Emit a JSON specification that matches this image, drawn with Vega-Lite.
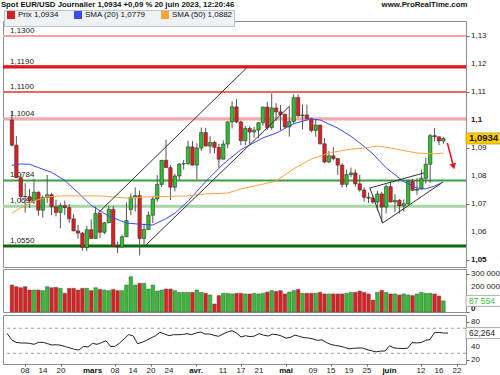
{
  "$schema": "https://vega.github.io/schema/vega-lite/v6.json",
  "padding": 0,
  "background": "white",
  "config": {
    "font": "Liberation Sans",
    "view": {"stroke": "#8f8f8f"},
    "axis": {"labelFont": "Liberation Sans", "labelFontSize": 8, "labelColor": "#222", "tickColor": "#666", "domain": false, "grid": false, "tickSize": 3, "labelPadding": 2},
    "legend": {"labelFont": "Liberation Sans", "labelFontSize": 8, "labelColor": "#111"}
  },
  "title": {
    "text": "\u00a0\u00a0\u00a0\u00a0\u00a0\u00a0Spot EUR/USD Journalier 1,0934 +0,09 % 20 juin 2023, 12:20:46\u00a0\u00a0\u00a0\u00a0\u00a0\u00a0\u00a0\u00a0\u00a0\u00a0\u00a0\u00a0\u00a0\u00a0\u00a0\u00a0\u00a0\u00a0\u00a0\u00a0\u00a0\u00a0\u00a0\u00a0\u00a0\u00a0\u00a0\u00a0\u00a0\u00a0\u00a0\u00a0\u00a0\u00a0\u00a0\u00a0\u00a0\u00a0\u00a0\u00a0\u00a0\u00a0\u00a0\u00a0\u00a0\u00a0\u00a0\u00a0\u00a0\u00a0\u00a0\u00a0\u00a0\u00a0\u00a0\u00a0\u00a0\u00a0\u00a0\u00a0\u00a0\u00a0\u00a0\u00a0\u00a0\u00a0\u00a0\u00a0www.ProRealTime.com",
    "anchor": "start",
    "fontSize": 7.8,
    "fontWeight": "bold",
    "color": "#111",
    "font": "Liberation Sans",
    "offset": 1
  },
  "datasets": {
    "px": [
      {"d":"2023-02-02","i":0,"o":1.1000,"h":1.1033,"l":1.0906,"c":1.0910,"sens":"baisse","v":212000,"rsi":62},
      {"d":"2023-02-03","i":1,"o":1.0910,"h":1.0943,"l":1.0796,"c":1.0794,"sens":"baisse","v":199000,"rsi":51.7},
      {"d":"2023-02-06","i":2,"o":1.0794,"h":1.0806,"l":1.0707,"c":1.0727,"sens":"baisse","v":191000,"rsi":47.5},
      {"d":"2023-02-07","i":3,"o":1.0727,"h":1.0774,"l":1.0669,"c":1.0726,"sens":"baisse","v":199000,"rsi":46.4},
      {"d":"2023-02-08","i":4,"o":1.0726,"h":1.0754,"l":1.0686,"c":1.0712,"sens":"baisse","v":173000,"rsi":46.4},
      {"d":"2023-02-09","i":5,"o":1.0712,"h":1.0790,"l":1.0700,"c":1.0742,"sens":"hausse","v":173000,"rsi":45.9},
      {"d":"2023-02-10","i":6,"o":1.0742,"h":1.0745,"l":1.0658,"c":1.0678,"sens":"baisse","v":173000,"rsi":44.3},
      {"d":"2023-02-13","i":7,"o":1.0678,"h":1.0730,"l":1.0652,"c":1.0723,"sens":"hausse","v":168000,"rsi":47.5},
      {"d":"2023-02-14","i":8,"o":1.0723,"h":1.0804,"l":1.0703,"c":1.0733,"sens":"hausse","v":199000,"rsi":47.5},
      {"d":"2023-02-15","i":9,"o":1.0733,"h":1.0740,"l":1.0660,"c":1.0690,"sens":"baisse","v":191000,"rsi":45.3},
      {"d":"2023-02-16","i":10,"o":1.0690,"h":1.0715,"l":1.0656,"c":1.0670,"sens":"baisse","v":194000,"rsi":43.2},
      {"d":"2023-02-17","i":11,"o":1.0670,"h":1.0705,"l":1.0613,"c":1.0694,"sens":"hausse","v":186000,"rsi":43.7},
      {"d":"2023-02-20","i":12,"o":1.0694,"h":1.0712,"l":1.0660,"c":1.0687,"sens":"baisse","v":147000,"rsi":42.7},
      {"d":"2023-02-21","i":13,"o":1.0687,"h":1.0700,"l":1.0633,"c":1.0647,"sens":"baisse","v":186000,"rsi":40.5},
      {"d":"2023-02-22","i":14,"o":1.0647,"h":1.0664,"l":1.0603,"c":1.0604,"sens":"baisse","v":186000,"rsi":38.4},
      {"d":"2023-02-23","i":15,"o":1.0604,"h":1.0626,"l":1.0576,"c":1.0596,"sens":"baisse","v":173000,"rsi":36.3},
      {"d":"2023-02-24","i":16,"o":1.0596,"h":1.0600,"l":1.0533,"c":1.0545,"sens":"baisse","v":186000,"rsi":35.2},
      {"d":"2023-02-27","i":17,"o":1.0545,"h":1.0621,"l":1.0532,"c":1.0608,"sens":"hausse","v":186000,"rsi":41.1},
      {"d":"2023-02-28","i":18,"o":1.0608,"h":1.0645,"l":1.0576,"c":1.0577,"sens":"baisse","v":168000,"rsi":40},
      {"d":"2023-03-01","i":19,"o":1.0577,"h":1.0691,"l":1.0577,"c":1.0666,"sens":"hausse","v":191000,"rsi":45.9},
      {"d":"2023-03-02","i":20,"o":1.0666,"h":1.0670,"l":1.0578,"c":1.0599,"sens":"baisse","v":178000,"rsi":44.3},
      {"d":"2023-03-03","i":21,"o":1.0599,"h":1.0636,"l":1.0592,"c":1.0633,"sens":"hausse","v":173000,"rsi":47},
      {"d":"2023-03-06","i":22,"o":1.0633,"h":1.0694,"l":1.0633,"c":1.0681,"sens":"hausse","v":168000,"rsi":50},
      {"d":"2023-03-07","i":23,"o":1.0681,"h":1.0693,"l":1.0548,"c":1.0549,"sens":"baisse","v":178000,"rsi":41},
      {"d":"2023-03-08","i":24,"o":1.0549,"h":1.0565,"l":1.0524,"c":1.0546,"sens":"baisse","v":168000,"rsi":41},
      {"d":"2023-03-09","i":25,"o":1.0546,"h":1.0590,"l":1.0546,"c":1.0583,"sens":"hausse","v":168000,"rsi":46.4},
      {"d":"2023-03-10","i":26,"o":1.0583,"h":1.0706,"l":1.0582,"c":1.0641,"sens":"hausse","v":212000,"rsi":52.8},
      {"d":"2023-03-13","i":27,"o":1.0680,"h":1.0737,"l":1.0660,"c":1.0725,"sens":"hausse","v":278000,"rsi":59.7},
      {"d":"2023-03-14","i":28,"o":1.0725,"h":1.0759,"l":1.0673,"c":1.0730,"sens":"hausse","v":212000,"rsi":58},
      {"d":"2023-03-15","i":29,"o":1.0730,"h":1.0748,"l":1.0516,"c":1.0577,"sens":"baisse","v":226000,"rsi":45.3},
      {"d":"2023-03-16","i":30,"o":1.0577,"h":1.0630,"l":1.0551,"c":1.0609,"sens":"hausse","v":226000,"rsi":47.5},
      {"d":"2023-03-17","i":31,"o":1.0609,"h":1.0673,"l":1.0609,"c":1.0660,"sens":"hausse","v":181000,"rsi":50.7},
      {"d":"2023-03-20","i":32,"o":1.0660,"h":1.0729,"l":1.0632,"c":1.0718,"sens":"hausse","v":212000,"rsi":54.4},
      {"d":"2023-03-21","i":33,"o":1.0718,"h":1.0803,"l":1.0708,"c":1.0770,"sens":"hausse","v":165000,"rsi":58.1},
      {"d":"2023-03-22","i":34,"o":1.0770,"h":1.0857,"l":1.0761,"c":1.0856,"sens":"hausse","v":173000,"rsi":63.5},
      {"d":"2023-03-23","i":35,"o":1.0856,"h":1.0930,"l":1.0830,"c":1.0830,"sens":"baisse","v":181000,"rsi":60.8},
      {"d":"2023-03-24","i":36,"o":1.0830,"h":1.0838,"l":1.0714,"c":1.0760,"sens":"baisse","v":181000,"rsi":58.1},
      {"d":"2023-03-27","i":37,"o":1.0760,"h":1.0808,"l":1.0745,"c":1.0800,"sens":"hausse","v":168000,"rsi":59.7},
      {"d":"2023-03-28","i":38,"o":1.0800,"h":1.0845,"l":1.0785,"c":1.0843,"sens":"hausse","v":155000,"rsi":59.7},
      {"d":"2023-03-29","i":39,"o":1.0843,"h":1.0857,"l":1.0823,"c":1.0844,"sens":"hausse","v":155000,"rsi":60},
      {"d":"2023-03-30","i":40,"o":1.0844,"h":1.0926,"l":1.0840,"c":1.0904,"sens":"hausse","v":155000,"rsi":61.3},
      {"d":"2023-03-31","i":41,"o":1.0904,"h":1.0925,"l":1.0837,"c":1.0839,"sens":"baisse","v":155000,"rsi":59.7},
      {"d":"2023-04-03","i":42,"o":1.0839,"h":1.0917,"l":1.0788,"c":1.0900,"sens":"hausse","v":173000,"rsi":62.4},
      {"d":"2023-04-04","i":43,"o":1.0900,"h":1.0973,"l":1.0890,"c":1.0955,"sens":"hausse","v":155000,"rsi":64},
      {"d":"2023-04-05","i":44,"o":1.0955,"h":1.0972,"l":1.0906,"c":1.0907,"sens":"baisse","v":147000,"rsi":60.8},
      {"d":"2023-04-06","i":45,"o":1.0907,"h":1.0942,"l":1.0880,"c":1.0920,"sens":"hausse","v":134000,"rsi":60.8},
      {"d":"2023-04-07","i":46,"o":1.0920,"h":1.0925,"l":1.0882,"c":1.0902,"sens":"baisse","v":63000,"rsi":58.7},
      {"d":"2023-04-10","i":47,"o":1.0902,"h":1.0915,"l":1.0830,"c":1.0860,"sens":"baisse","v":129000,"rsi":57.1},
      {"d":"2023-04-11","i":48,"o":1.0860,"h":1.0927,"l":1.0860,"c":1.0914,"sens":"hausse","v":147000,"rsi":60.8},
      {"d":"2023-04-12","i":49,"o":1.0914,"h":1.0996,"l":1.0900,"c":1.0993,"sens":"hausse","v":147000,"rsi":64},
      {"d":"2023-04-13","i":50,"o":1.0993,"h":1.1067,"l":1.0970,"c":1.1047,"sens":"hausse","v":142000,"rsi":66.1},
      {"d":"2023-04-14","i":51,"o":1.1047,"h":1.1075,"l":1.0989,"c":1.0993,"sens":"baisse","v":147000,"rsi":62.4},
      {"d":"2023-04-17","i":52,"o":1.0993,"h":1.0998,"l":1.0910,"c":1.0926,"sens":"baisse","v":147000,"rsi":56},
      {"d":"2023-04-18","i":53,"o":1.0926,"h":1.0978,"l":1.0909,"c":1.0970,"sens":"hausse","v":142000,"rsi":58.1},
      {"d":"2023-04-19","i":54,"o":1.0970,"h":1.0977,"l":1.0915,"c":1.0957,"sens":"baisse","v":142000,"rsi":56.5},
      {"d":"2023-04-20","i":55,"o":1.0957,"h":1.0976,"l":1.0937,"c":1.0964,"sens":"hausse","v":147000,"rsi":57.5},
      {"d":"2023-04-21","i":56,"o":1.0964,"h":1.0992,"l":1.0935,"c":1.0990,"sens":"hausse","v":142000,"rsi":61.5},
      {"d":"2023-04-24","i":57,"o":1.0990,"h":1.1047,"l":1.0980,"c":1.1046,"sens":"hausse","v":147000,"rsi":59},
      {"d":"2023-04-25","i":58,"o":1.1046,"h":1.1065,"l":1.0965,"c":1.0973,"sens":"baisse","v":157000,"rsi":57.5},
      {"d":"2023-04-26","i":59,"o":1.0973,"h":1.1095,"l":1.0965,"c":1.1043,"sens":"hausse","v":168000,"rsi":60.5},
      {"d":"2023-04-27","i":60,"o":1.1043,"h":1.1060,"l":1.0997,"c":1.1029,"sens":"baisse","v":163000,"rsi":59.7},
      {"d":"2023-04-28","i":61,"o":1.1029,"h":1.1053,"l":1.0962,"c":1.1020,"sens":"baisse","v":168000,"rsi":57.5},
      {"d":"2023-05-01","i":62,"o":1.1020,"h":1.1024,"l":1.0968,"c":1.0975,"sens":"baisse","v":142000,"rsi":54},
      {"d":"2023-05-02","i":63,"o":1.0975,"h":1.1048,"l":1.0941,"c":1.0995,"sens":"hausse","v":157000,"rsi":55.5},
      {"d":"2023-05-03","i":64,"o":1.0995,"h":1.1092,"l":1.0985,"c":1.1080,"sens":"hausse","v":168000,"rsi":59},
      {"d":"2023-05-04","i":65,"o":1.1080,"h":1.1092,"l":1.1012,"c":1.1015,"sens":"baisse","v":178000,"rsi":57},
      {"d":"2023-05-05","i":66,"o":1.1015,"h":1.1055,"l":1.0966,"c":1.1018,"sens":"hausse","v":147000,"rsi":55},
      {"d":"2023-05-08","i":67,"o":1.1018,"h":1.1055,"l":1.1001,"c":1.1004,"sens":"baisse","v":147000,"rsi":54.4},
      {"d":"2023-05-09","i":68,"o":1.1004,"h":1.1008,"l":1.0956,"c":1.0963,"sens":"baisse","v":147000,"rsi":52.8},
      {"d":"2023-05-10","i":69,"o":1.0963,"h":1.1000,"l":1.0940,"c":1.0982,"sens":"hausse","v":147000,"rsi":50.7},
      {"d":"2023-05-11","i":70,"o":1.0982,"h":1.0983,"l":1.0913,"c":1.0915,"sens":"baisse","v":155000,"rsi":51.5},
      {"d":"2023-05-12","i":71,"o":1.0915,"h":1.0935,"l":1.0846,"c":1.0850,"sens":"baisse","v":142000,"rsi":47},
      {"d":"2023-05-15","i":72,"o":1.0850,"h":1.0890,"l":1.0846,"c":1.0872,"sens":"hausse","v":142000,"rsi":44},
      {"d":"2023-05-16","i":73,"o":1.0872,"h":1.0903,"l":1.0856,"c":1.0862,"sens":"baisse","v":142000,"rsi":42.5},
      {"d":"2023-05-17","i":74,"o":1.0862,"h":1.0864,"l":1.0804,"c":1.0839,"sens":"baisse","v":142000,"rsi":41.3},
      {"d":"2023-05-18","i":75,"o":1.0839,"h":1.0845,"l":1.0759,"c":1.0770,"sens":"baisse","v":142000,"rsi":39.5},
      {"d":"2023-05-19","i":76,"o":1.0770,"h":1.0823,"l":1.0760,"c":1.0805,"sens":"hausse","v":147000,"rsi":37},
      {"d":"2023-05-22","i":77,"o":1.0805,"h":1.0830,"l":1.0796,"c":1.0811,"sens":"hausse","v":155000,"rsi":38},
      {"d":"2023-05-23","i":78,"o":1.0811,"h":1.0823,"l":1.0762,"c":1.0772,"sens":"baisse","v":155000,"rsi":38.4},
      {"d":"2023-05-24","i":79,"o":1.0772,"h":1.0804,"l":1.0744,"c":1.0750,"sens":"baisse","v":165000,"rsi":38.4},
      {"d":"2023-05-25","i":80,"o":1.0750,"h":1.0759,"l":1.0708,"c":1.0724,"sens":"baisse","v":155000,"rsi":35.9},
      {"d":"2023-05-26","i":81,"o":1.0724,"h":1.0741,"l":1.0703,"c":1.0721,"sens":"baisse","v":142000,"rsi":34},
      {"d":"2023-05-29","i":82,"o":1.0721,"h":1.0730,"l":1.0700,"c":1.0707,"sens":"baisse","v":94000,"rsi":32.2},
      {"d":"2023-05-30","i":83,"o":1.0707,"h":1.0747,"l":1.0676,"c":1.0736,"sens":"hausse","v":155000,"rsi":33.5},
      {"d":"2023-05-31","i":84,"o":1.0736,"h":1.0744,"l":1.0635,"c":1.0689,"sens":"baisse","v":170000,"rsi":33.5},
      {"d":"2023-06-01","i":85,"o":1.0689,"h":1.0770,"l":1.0667,"c":1.0762,"sens":"hausse","v":155000,"rsi":42},
      {"d":"2023-06-02","i":86,"o":1.0762,"h":1.0779,"l":1.0706,"c":1.0707,"sens":"baisse","v":142000,"rsi":38.6},
      {"d":"2023-06-05","i":87,"o":1.0707,"h":1.0735,"l":1.0672,"c":1.0713,"sens":"hausse","v":142000,"rsi":37.9},
      {"d":"2023-06-06","i":88,"o":1.0713,"h":1.0717,"l":1.0666,"c":1.0693,"sens":"baisse","v":134000,"rsi":37.5},
      {"d":"2023-06-07","i":89,"o":1.0693,"h":1.0717,"l":1.0673,"c":1.0701,"sens":"hausse","v":142000,"rsi":38},
      {"d":"2023-06-08","i":90,"o":1.0701,"h":1.0787,"l":1.0697,"c":1.0781,"sens":"hausse","v":134000,"rsi":47},
      {"d":"2023-06-09","i":91,"o":1.0781,"h":1.0790,"l":1.0747,"c":1.0749,"sens":"baisse","v":129000,"rsi":46.5},
      {"d":"2023-06-12","i":92,"o":1.0749,"h":1.0792,"l":1.0733,"c":1.0753,"sens":"hausse","v":142000,"rsi":47.2},
      {"d":"2023-06-13","i":93,"o":1.0753,"h":1.0823,"l":1.0755,"c":1.0792,"sens":"hausse","v":155000,"rsi":50.5},
      {"d":"2023-06-14","i":94,"o":1.0792,"h":1.0865,"l":1.0773,"c":1.0842,"sens":"hausse","v":147000,"rsi":52},
      {"d":"2023-06-15","i":95,"o":1.0842,"h":1.0950,"l":1.0775,"c":1.0944,"sens":"hausse","v":147000,"rsi":63},
      {"d":"2023-06-16","i":96,"o":1.0944,"h":1.0971,"l":1.0924,"c":1.0940,"sens":"baisse","v":142000,"rsi":63.5},
      {"d":"2023-06-19","i":97,"o":1.0940,"h":1.0941,"l":1.0910,"c":1.0925,"sens":"baisse","v":126000,"rsi":62.3},
      {"d":"2023-06-20","i":98,"o":1.0925,"h":1.0940,"l":1.0915,"c":1.0934,"sens":"hausse","v":87554,"rsi":62.264}
    ],
    "sma": [
      {"serie":"SMA (20) 1,0779","i":0,"v":1.0838},
      {"serie":"SMA (20) 1,0779","i":2,"v":1.0843},
      {"serie":"SMA (20) 1,0779","i":4,"v":1.0842},
      {"serie":"SMA (20) 1,0779","i":6,"v":1.0830},
      {"serie":"SMA (20) 1,0779","i":9,"v":1.0813},
      {"serie":"SMA (20) 1,0779","i":12,"v":1.0784},
      {"serie":"SMA (20) 1,0779","i":15,"v":1.0741},
      {"serie":"SMA (20) 1,0779","i":18,"v":1.0695},
      {"serie":"SMA (20) 1,0779","i":20,"v":1.0676},
      {"serie":"SMA (20) 1,0779","i":22,"v":1.0657},
      {"serie":"SMA (20) 1,0779","i":26,"v":1.0632},
      {"serie":"SMA (20) 1,0779","i":29,"v":1.0628},
      {"serie":"SMA (20) 1,0779","i":32,"v":1.0625},
      {"serie":"SMA (20) 1,0779","i":35,"v":1.0648},
      {"serie":"SMA (20) 1,0779","i":37,"v":1.0667},
      {"serie":"SMA (20) 1,0779","i":40,"v":1.0710},
      {"serie":"SMA (20) 1,0779","i":44,"v":1.0780},
      {"serie":"SMA (20) 1,0779","i":48,"v":1.0843},
      {"serie":"SMA (20) 1,0779","i":52,"v":1.0894},
      {"serie":"SMA (20) 1,0779","i":57,"v":1.0936},
      {"serie":"SMA (20) 1,0779","i":60,"v":1.0953},
      {"serie":"SMA (20) 1,0779","i":64,"v":1.0987},
      {"serie":"SMA (20) 1,0779","i":68,"v":1.1004},
      {"serie":"SMA (20) 1,0779","i":70,"v":1.1000},
      {"serie":"SMA (20) 1,0779","i":74,"v":1.0971},
      {"serie":"SMA (20) 1,0779","i":77,"v":1.0942},
      {"serie":"SMA (20) 1,0779","i":79,"v":1.0918},
      {"serie":"SMA (20) 1,0779","i":82,"v":1.0879},
      {"serie":"SMA (20) 1,0779","i":85,"v":1.0829},
      {"serie":"SMA (20) 1,0779","i":89,"v":1.0780},
      {"serie":"SMA (20) 1,0779","i":92,"v":1.0757},
      {"serie":"SMA (20) 1,0779","i":94,"v":1.0754},
      {"serie":"SMA (20) 1,0779","i":96,"v":1.0764},
      {"serie":"SMA (20) 1,0779","i":98,"v":1.0779},
      {"serie":"SMA (50) 1,0882","i":0,"v":1.0668},
      {"serie":"SMA (50) 1,0882","i":2,"v":1.0686},
      {"serie":"SMA (50) 1,0882","i":5,"v":1.0711},
      {"serie":"SMA (50) 1,0882","i":8,"v":1.0725},
      {"serie":"SMA (50) 1,0882","i":11,"v":1.0729},
      {"serie":"SMA (50) 1,0882","i":20,"v":1.0729},
      {"serie":"SMA (50) 1,0882","i":26,"v":1.0721},
      {"serie":"SMA (50) 1,0882","i":30,"v":1.0725},
      {"serie":"SMA (50) 1,0882","i":40,"v":1.0729},
      {"serie":"SMA (50) 1,0882","i":44,"v":1.0736},
      {"serie":"SMA (50) 1,0882","i":49,"v":1.0739},
      {"serie":"SMA (50) 1,0882","i":52,"v":1.0754},
      {"serie":"SMA (50) 1,0882","i":57,"v":1.0771},
      {"serie":"SMA (50) 1,0882","i":60,"v":1.0782},
      {"serie":"SMA (50) 1,0882","i":64,"v":1.0826},
      {"serie":"SMA (50) 1,0882","i":68,"v":1.0861},
      {"serie":"SMA (50) 1,0882","i":72,"v":1.0882},
      {"serie":"SMA (50) 1,0882","i":77,"v":1.0896},
      {"serie":"SMA (50) 1,0882","i":80,"v":1.0900},
      {"serie":"SMA (50) 1,0882","i":83,"v":1.0907},
      {"serie":"SMA (50) 1,0882","i":86,"v":1.0900},
      {"serie":"SMA (50) 1,0882","i":92,"v":1.0882},
      {"serie":"SMA (50) 1,0882","i":96,"v":1.0879},
      {"serie":"SMA (50) 1,0882","i":98,"v":1.0882}
    ],
    "levels": [
      {"level":1.1300,"label":"1,1300","kind":"résistance 3","epais":"non"},
      {"level":1.1190,"label":"1,1190","kind":"résistance majeure","epais":"oui"},
      {"level":1.1100,"label":"1,1100","kind":"résistance 2","epais":"non"},
      {"level":1.1004,"label":"1,1004","kind":"résistance 1","epais":"oui"},
      {"level":1.0784,"label":"1,0784","kind":"support 1","epais":"non"},
      {"level":1.0692,"label":"1,0692","kind":"support 2","epais":"oui"},
      {"level":1.0550,"label":"1,0550","kind":"support majeur","epais":"oui"}
    ],
    "yticks": [
      {"t":1.05,"lab":"1,05"},{"t":1.06,"lab":"1,06"},{"t":1.07,"lab":"1,07"},{"t":1.08,"lab":"1,08"},{"t":1.09,"lab":"1,09"},
      {"t":1.10,"lab":"1,1"},{"t":1.11,"lab":"1,11"},{"t":1.12,"lab":"1,12"},{"t":1.13,"lab":"1,13"}
    ],
    "vticks": [
      {"t":300000,"lab":"300 000"},{"t":200000,"lab":"200 000"},{"t":0,"lab":"0"}
    ],
    "rticks": [
      {"t":80,"lab":"80"},{"t":40,"lab":"40"},{"t":20,"lab":"20"}
    ],
    "xticks": [
      {"i":4,"lab":"08","mois":"non"},{"i":8,"lab":"14","mois":"non"},{"i":12,"lab":"20","mois":"non"},
      {"i":19,"lab":"mars","mois":"oui"},{"i":24,"lab":"08","mois":"non"},{"i":28,"lab":"14","mois":"non"},
      {"i":32,"lab":"20","mois":"non"},{"i":36,"lab":"24","mois":"non"},{"i":42,"lab":"avr.","mois":"oui"},
      {"i":48,"lab":"11","mois":"non"},{"i":52,"lab":"17","mois":"non"},{"i":56,"lab":"21","mois":"non"},
      {"i":62,"lab":"mai","mois":"oui"},{"i":68,"lab":"09","mois":"non"},{"i":72,"lab":"15","mois":"non"},
      {"i":76,"lab":"19","mois":"non"},{"i":80,"lab":"25","mois":"non"},{"i":85,"lab":"juin","mois":"oui"},
      {"i":92,"lab":"12","mois":"non"},{"i":96,"lab":"16","mois":"non"},{"i":100,"lab":"22","mois":"non"}
    ],
    "trend": [
      {"i1":19.6,"p1":1.0668,"i2":53.3,"p2":1.1186},
      {"i1":30.2,"p1":1.0550,"i2":63.1,"p2":1.1050},
      {"i1":81.3,"p1":1.0757,"i2":93.6,"p2":1.0811},
      {"i1":81.3,"p1":1.0757,"i2":84.2,"p2":1.0632},
      {"i1":84.2,"p1":1.0632,"i2":97.6,"p2":1.0775}
    ],
    "arrow": [
      {"i1":98.9,"p1":1.0918,"i2":100.3,"p2":1.0834}
    ],
    "last": [
      {"price":1.0934,"plabel":"1,0934","v":87554,"vlabel":"87 554","rsi":62.264,"rlabel":"62,264"}
    ]
  },
  "spacing": 0,
  "vconcat": [
    {
      "width": 463,
      "height": 246,
      "layer": [
        {
          "data": {"name": "levels"},
          "mark": {"type": "rule", "strokeWidth": 2},
          "encoding": {
            "y": {"field": "level", "type": "quantitative", "title": null,
              "scale": {"domain": [1.0475, 1.135357], "nice": false, "zero": false},
              "axis": {"orient": "right", "values": [1.05, 1.06, 1.07, 1.08, 1.09, 1.1, 1.11, 1.12, 1.13], "labels": false}},
            "stroke": {"field": "kind", "type": "nominal", "legend": null,
              "scale": {"domain": ["résistance 3", "résistance majeure", "résistance 2", "résistance 1", "support 1", "support 2", "support majeur"],
                "range": ["#f4a3a3", "#e5141b", "#f06464", "#f5aaaa", "#3d9e3d", "#a9d6a9", "#0b6b0b"]}}
          }
        },
        {
          "data": {"name": "levels"},
          "transform": [{"filter": "datum.epais == 'oui'"}],
          "mark": {"type": "rule", "strokeWidth": 3.2},
          "encoding": {
            "y": {"field": "level", "type": "quantitative", "title": null},
            "stroke": {"field": "kind", "type": "nominal", "legend": null}
          }
        },
        {
          "data": {"name": "levels"},
          "mark": {"type": "text", "align": "left", "baseline": "bottom", "dy": -1, "fontSize": 8, "color": "#222"},
          "encoding": {
            "x": {"datum": -0.45, "type": "quantitative", "axis": null, "title": null},
            "y": {"field": "level", "type": "quantitative", "title": null},
            "text": {"field": "label"}
          }
        },
        {
          "mark": {"type": "text", "align": "left", "baseline": "middle", "fontSize": 8, "color": "#333"},
          "encoding": {
            "x": {"datum": -0.45, "type": "quantitative", "axis": null, "title": null},
            "y": {"datum": 1.0493, "type": "quantitative", "title": null},
            "text": {"value": "ProRealTime.com"}
          }
        },
        {
          "data": {"name": "px"},
          "mark": {"type": "rule", "color": "#555", "strokeWidth": 1},
          "encoding": {
            "x": {"field": "i", "type": "quantitative", "title": null, "axis": null, "scale": {"domain": [-0.9, 102], "nice": false, "zero": false}},
            "y": {"field": "l", "type": "quantitative", "title": null},
            "y2": {"field": "h"}
          }
        },
        {
          "data": {"name": "px"},
          "mark": {"type": "bar", "width": 3.4, "stroke": "#333", "strokeWidth": 0.6},
          "encoding": {
            "x": {"field": "i", "type": "quantitative", "title": null, "axis": null},
            "y": {"field": "o", "type": "quantitative", "title": null},
            "y2": {"field": "c"},
            "fill": {"field": "sens", "type": "nominal", "legend": null,
              "scale": {"domain": ["hausse", "baisse"], "range": ["#2fbf2f", "#e21d1d"]}}
          }
        },
        {
          "data": {"name": "sma"},
          "mark": {"type": "line", "strokeWidth": 1},
          "encoding": {
            "x": {"field": "i", "type": "quantitative", "title": null, "axis": null},
            "y": {"field": "v", "type": "quantitative", "title": null},
            "color": {"field": "serie", "type": "nominal", "title": null,
              "scale": {"domain": ["Prix 1,0934", "SMA (20) 1,0779", "SMA (50) 1,0882"], "range": ["#d42020", "#3a4cf0", "#ffa43a"]},
              "legend": {"orient": "none", "legendX": 1, "legendY": -11, "direction": "horizontal", "padding": 1, "symbolType": "square", "symbolSize": 16, "symbolStrokeWidth": 4, "symbolOffset": 2, "labelOffset": 3, "columnPadding": 9, "strokeColor": "#b8c4cc", "fillColor": "#eef2f5"}}
          }
        },
        {
          "data": {"name": "trend"},
          "mark": {"type": "rule", "color": "#333", "strokeWidth": 1},
          "encoding": {
            "x": {"field": "i1", "type": "quantitative", "title": null, "axis": null},
            "x2": {"field": "i2"},
            "y": {"field": "p1", "type": "quantitative", "title": null},
            "y2": {"field": "p2"}
          }
        },
        {
          "data": {"name": "arrow"},
          "mark": {"type": "rule", "color": "#e8141b", "strokeWidth": 1.5},
          "encoding": {
            "x": {"field": "i1", "type": "quantitative", "title": null, "axis": null},
            "x2": {"field": "i2"},
            "y": {"field": "p1", "type": "quantitative", "title": null},
            "y2": {"field": "p2"}
          }
        },
        {
          "data": {"name": "arrow"},
          "mark": {"type": "point", "shape": "triangle-down", "filled": true, "color": "#e8141b", "size": 45, "angle": 345, "opacity": 1},
          "encoding": {
            "x": {"field": "i2", "type": "quantitative", "title": null, "axis": null},
            "y": {"field": "p2", "type": "quantitative", "title": null}
          }
        },
        {
          "data": {"name": "yticks"},
          "transform": [{"filter": "datum.t != 1.05 && datum.t != 1.1"}],
          "mark": {"type": "text", "align": "left", "baseline": "middle", "dx": 5, "fontSize": 8, "color": "#222"},
          "encoding": {
            "x": {"value": "width"},
            "y": {"field": "t", "type": "quantitative", "title": null},
            "text": {"field": "lab"}
          }
        },
        {
          "data": {"name": "yticks"},
          "transform": [{"filter": "datum.t == 1.05 || datum.t == 1.1"}],
          "mark": {"type": "text", "align": "left", "baseline": "middle", "dx": 5, "fontSize": 8, "fontWeight": "bold", "color": "#111"},
          "encoding": {
            "x": {"value": "width"},
            "y": {"field": "t", "type": "quantitative", "title": null},
            "text": {"field": "lab"}
          }
        },
        {
          "data": {"name": "last"},
          "mark": {"type": "point", "shape": "M0,-1H6.3V1H0Z", "size": 121, "filled": true, "fill": "#ffcc00", "stroke": "#c79a00", "strokeWidth": 0.8, "opacity": 1},
          "encoding": {
            "x": {"value": "width"},
            "y": {"field": "price", "type": "quantitative", "title": null}
          }
        },
        {
          "data": {"name": "last"},
          "mark": {"type": "text", "align": "left", "baseline": "middle", "dx": 3, "fontSize": 9.5, "fontWeight": "bold", "color": "#111"},
          "encoding": {
            "x": {"value": "width"},
            "y": {"field": "price", "type": "quantitative", "title": null},
            "text": {"field": "plabel"}
          }
        }
      ]
    },
    {
      "width": 463,
      "height": 43,
      "layer": [
        {
          "data": {"name": "px"},
          "mark": {"type": "bar", "width": 3.6, "stroke": "#555", "strokeWidth": 0.5},
          "encoding": {
            "x": {"field": "i", "type": "quantitative", "title": null, "axis": null, "scale": {"domain": [-0.9, 102], "nice": false, "zero": false}},
            "y": {"field": "v", "type": "quantitative", "title": null,
              "scale": {"domain": [0, 338000], "nice": false},
              "axis": {"orient": "right", "values": [0, 100000, 200000, 300000], "labels": false}},
            "fill": {"field": "sens", "type": "nominal", "legend": null}
          }
        },
        {
          "mark": {"type": "point", "shape": "M0,-1H13.4V1H0Z", "size": 100, "filled": true, "fill": "white", "stroke": "#aaa", "strokeWidth": 0.8, "opacity": 1},
          "encoding": {
            "x": {"datum": -0.45, "type": "quantitative", "axis": null, "title": null},
            "y": {"datum": 287000, "type": "quantitative", "title": null}
          }
        },
        {
          "mark": {"type": "point", "shape": "M-1,-1H0V1H-1Z", "size": 36, "filled": true, "fill": "#e21d1d", "opacity": 1},
          "encoding": {
            "x": {"datum": 0.66, "type": "quantitative", "axis": null, "title": null},
            "y": {"datum": 287000, "type": "quantitative", "title": null}
          }
        },
        {
          "mark": {"type": "point", "shape": "M0,-1H1V1H0Z", "size": 36, "filled": true, "fill": "#2fbf2f", "opacity": 1},
          "encoding": {
            "x": {"datum": 0.66, "type": "quantitative", "axis": null, "title": null},
            "y": {"datum": 287000, "type": "quantitative", "title": null}
          }
        },
        {
          "mark": {"type": "text", "align": "left", "baseline": "middle", "fontSize": 8.5, "color": "#111"},
          "encoding": {
            "x": {"datum": 1.77, "type": "quantitative", "axis": null, "title": null},
            "y": {"datum": 287000, "type": "quantitative", "title": null},
            "text": {"value": "Volume"}
          }
        },
        {
          "mark": {"type": "text", "align": "left", "baseline": "middle", "fontSize": 8.5, "color": "#33b833"},
          "encoding": {
            "x": {"datum": 8.2, "type": "quantitative", "axis": null, "title": null},
            "y": {"datum": 287000, "type": "quantitative", "title": null},
            "text": {"value": "87 554"}
          }
        },
        {
          "data": {"name": "vticks"},
          "transform": [{"filter": "datum.t > 0"}],
          "mark": {"type": "text", "align": "left", "baseline": "middle", "dx": 5, "fontSize": 8, "color": "#222"},
          "encoding": {
            "x": {"value": "width"},
            "y": {"field": "t", "type": "quantitative", "title": null},
            "text": {"field": "lab"}
          }
        },
        {
          "data": {"name": "vticks"},
          "transform": [{"filter": "datum.t == 0"}],
          "mark": {"type": "text", "align": "left", "baseline": "bottom", "dx": 5, "dy": 1, "fontSize": 8, "fontWeight": "bold", "color": "#111"},
          "encoding": {
            "x": {"value": "width"},
            "y": {"field": "t", "type": "quantitative", "title": null},
            "text": {"field": "lab"}
          }
        },
        {
          "data": {"name": "last"},
          "mark": {"type": "point", "shape": "M0,-1H6.3V1H0Z", "size": 121, "filled": true, "fill": "white", "stroke": "#999", "strokeWidth": 0.8, "opacity": 1},
          "encoding": {
            "x": {"value": "width"},
            "y": {"field": "v", "type": "quantitative", "title": null}
          }
        },
        {
          "data": {"name": "last"},
          "mark": {"type": "text", "align": "left", "baseline": "middle", "dx": 3, "fontSize": 8.5, "color": "#3cc03c"},
          "encoding": {
            "x": {"value": "width"},
            "y": {"field": "v", "type": "quantitative", "title": null},
            "text": {"field": "vlabel"}
          }
        }
      ]
    },
    {
      "width": 463,
      "height": 49,
      "layer": [
        {
          "data": {"values": [{"r": 70}, {"r": 30}]},
          "mark": {"type": "rule", "color": "#888", "strokeDash": [3, 3], "strokeWidth": 0.8},
          "encoding": {
            "y": {"field": "r", "type": "quantitative", "title": null,
              "scale": {"domain": [12.8, 91.2], "nice": false, "zero": false},
              "axis": {"orient": "right", "values": [20, 40, 60, 80], "labels": false}}
          }
        },
        {
          "data": {"name": "px"},
          "mark": {"type": "line", "strokeWidth": 1, "color": "#222"},
          "encoding": {
            "x": {"field": "i", "type": "quantitative", "title": null,
              "scale": {"domain": [-0.9, 102], "nice": false, "zero": false},
              "axis": {"orient": "bottom", "values": [4, 8, 12, 19, 24, 28, 32, 36, 42, 48, 52, 56, 62, 68, 72, 76, 80, 85, 92, 96, 100], "labels": false, "tickSize": 2}},
            "y": {"field": "rsi", "type": "quantitative", "title": null}
          }
        },
        {
          "mark": {"type": "point", "shape": "M0,-1H12.4V1H0Z", "size": 100, "filled": true, "fill": "white", "stroke": "#aaa", "strokeWidth": 0.8, "opacity": 1},
          "encoding": {
            "x": {"datum": -0.45, "type": "quantitative", "title": null},
            "y": {"datum": 80.8, "type": "quantitative", "title": null}
          }
        },
        {
          "mark": {"type": "point", "shape": "square", "size": 30, "filled": true, "fill": "#000", "opacity": 1},
          "encoding": {
            "x": {"datum": 0.66, "type": "quantitative", "title": null},
            "y": {"datum": 80.8, "type": "quantitative", "title": null}
          }
        },
        {
          "mark": {"type": "text", "align": "left", "baseline": "middle", "fontSize": 8.5, "color": "#111"},
          "encoding": {
            "x": {"datum": 1.77, "type": "quantitative", "title": null},
            "y": {"datum": 80.8, "type": "quantitative", "title": null},
            "text": {"value": "RSI (14) 62,264"}
          }
        },
        {
          "data": {"name": "rticks"},
          "mark": {"type": "text", "align": "left", "baseline": "middle", "dx": 5, "fontSize": 8, "color": "#222"},
          "encoding": {
            "x": {"value": "width"},
            "y": {"field": "t", "type": "quantitative", "title": null},
            "text": {"field": "lab"}
          }
        },
        {
          "data": {"name": "xticks"},
          "transform": [{"filter": "datum.mois == 'non'"}],
          "mark": {"type": "text", "align": "center", "baseline": "middle", "fontSize": 8, "color": "#222"},
          "encoding": {
            "x": {"field": "i", "type": "quantitative", "title": null},
            "y": {"datum": 1.6, "type": "quantitative", "title": null},
            "text": {"field": "lab"}
          }
        },
        {
          "data": {"name": "xticks"},
          "transform": [{"filter": "datum.mois == 'oui'"}],
          "mark": {"type": "text", "align": "center", "baseline": "middle", "fontSize": 8, "fontWeight": "bold", "color": "#111"},
          "encoding": {
            "x": {"field": "i", "type": "quantitative", "title": null},
            "y": {"datum": 1.6, "type": "quantitative", "title": null},
            "text": {"field": "lab"}
          }
        },
        {
          "data": {"name": "last"},
          "mark": {"type": "point", "shape": "M0,-1H6.3V1H0Z", "size": 121, "filled": true, "fill": "white", "stroke": "#999", "strokeWidth": 0.8, "opacity": 1},
          "encoding": {
            "x": {"value": "width"},
            "y": {"field": "rsi", "type": "quantitative", "title": null}
          }
        },
        {
          "data": {"name": "last"},
          "mark": {"type": "text", "align": "left", "baseline": "middle", "dx": 3, "fontSize": 8.5, "color": "#222"},
          "encoding": {
            "x": {"value": "width"},
            "y": {"field": "rsi", "type": "quantitative", "title": null},
            "text": {"field": "rlabel"}
          }
        }
      ]
    }
  ]
}
